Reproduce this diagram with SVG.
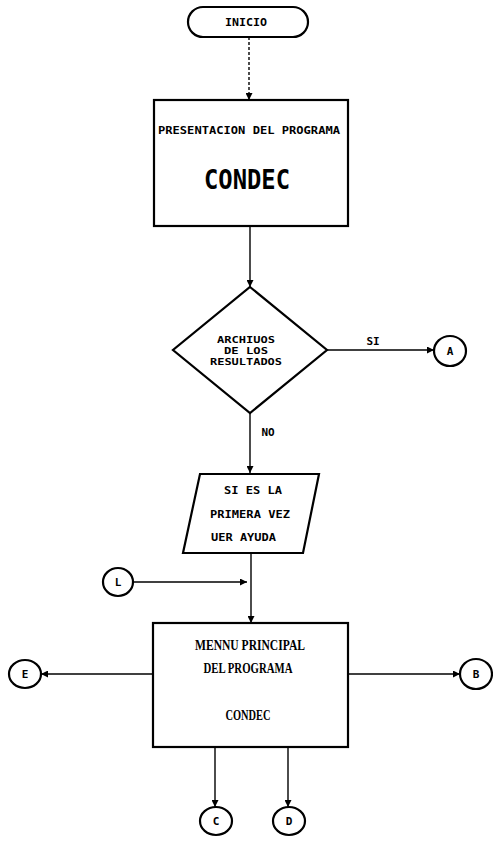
<svg xmlns="http://www.w3.org/2000/svg" width="493" height="841" viewBox="0 0 493 841">
<style>
  .shape { fill: #fff; stroke: #000; stroke-width: 2.2; }
  .conn { fill: none; stroke: #000; stroke-width: 1.4; }
  .dot { font-family: "DejaVu Sans Mono", "Liberation Mono", monospace; font-weight: bold; font-size: 11px; fill: #000; }
  .dia { font-family: "DejaVu Sans Mono", "Liberation Mono", monospace; font-weight: bold; font-size: 9px; fill: #000; }
  .big { font-family: "DejaVu Sans Mono", "Liberation Mono", monospace; font-weight: bold; font-size: 27px; fill: #000; }
  .serif { font-family: "Liberation Serif", "DejaVu Serif", serif; font-weight: bold; font-size: 15px; fill: #000; }
</style>
<defs>
  <marker id="arr" viewBox="0 0 10 10" refX="10" refY="5" markerWidth="7" markerHeight="7" markerUnits="userSpaceOnUse" orient="auto">
    <path d="M0,0 L10,5 L0,10 Z" fill="#000"/>
  </marker>
</defs>
<rect width="493" height="841" fill="#fff"/>

<g id="connectors">
  <line class="conn" x1="249" y1="37" x2="249" y2="100" stroke-dasharray="3 2" marker-end="url(#arr)"/>
  <line class="conn" x1="250" y1="226" x2="250" y2="287" marker-end="url(#arr)"/>
  <line class="conn" x1="327" y1="350" x2="434" y2="350" marker-end="url(#arr)"/>
  <line class="conn" x1="250" y1="413" x2="250" y2="473" marker-end="url(#arr)"/>
  <line class="conn" x1="251" y1="553" x2="251" y2="623" marker-end="url(#arr)"/>
  <line class="conn" x1="134" y1="582" x2="247" y2="582" marker-end="url(#arr)"/>
  <line class="conn" x1="153" y1="674" x2="41" y2="674" marker-end="url(#arr)"/>
  <line class="conn" x1="348" y1="674" x2="460" y2="674" marker-end="url(#arr)"/>
  <line class="conn" x1="215" y1="747" x2="215" y2="807" marker-end="url(#arr)"/>
  <line class="conn" x1="288" y1="747" x2="288" y2="807" marker-end="url(#arr)"/>
  <text class="dot" x="373" y="345" text-anchor="middle">SI</text>
  <text class="dot" x="268" y="436" text-anchor="middle">NO</text>
</g>

<g id="inicio">
  <rect class="shape" x="188" y="7" width="120" height="30" rx="15"/>
  <text class="dot" x="246" y="26" text-anchor="middle" textLength="42" lengthAdjust="spacingAndGlyphs">INICIO</text>
</g>

<g id="presentacion">
  <rect class="shape" x="154" y="100" width="194" height="126"/>
  <text class="dot" x="249" y="134" text-anchor="middle" textLength="182" lengthAdjust="spacingAndGlyphs">PRESENTACION DEL PROGRAMA</text>
  <text class="big" x="247" y="189" text-anchor="middle" textLength="86" lengthAdjust="spacingAndGlyphs">CONDEC</text>
</g>

<g id="decision">
  <polygon class="shape" points="250,287 327,350 250,413 173,350"/>
  <text class="dia" x="246" y="343" text-anchor="middle" textLength="58" lengthAdjust="spacingAndGlyphs">ARCHIUOS</text>
  <text class="dia" x="246" y="354" text-anchor="middle" textLength="44" lengthAdjust="spacingAndGlyphs">DE LOS</text>
  <text class="dia" x="246" y="365" text-anchor="middle" textLength="72" lengthAdjust="spacingAndGlyphs">RESULTADOS</text>
</g>

<g id="conA">
  <ellipse class="shape" cx="450" cy="351" rx="16" ry="15" stroke-width="1.8"/>
  <text class="dot" x="450" y="355" text-anchor="middle">A</text>
</g>

<g id="ayuda">
  <polygon class="shape" points="200,474 319,474 303,553 183,553"/>
  <text class="dot" x="253" y="494" text-anchor="middle" textLength="58" lengthAdjust="spacingAndGlyphs">SI ES LA</text>
  <text class="dot" x="210" y="518" textLength="80" lengthAdjust="spacingAndGlyphs">PRIMERA VEZ</text>
  <text class="dot" x="211" y="541" textLength="65" lengthAdjust="spacingAndGlyphs">UER AYUDA</text>
</g>

<g id="conL">
  <ellipse class="shape" cx="118" cy="582" rx="15" ry="14" stroke-width="1.8"/>
  <text class="dot" x="118" y="586" text-anchor="middle">L</text>
</g>

<g id="menu">
  <rect class="shape" x="153" y="623" width="195" height="124" stroke-width="2.5"/>
  <text class="serif" x="250" y="650" text-anchor="middle" textLength="110" lengthAdjust="spacingAndGlyphs">MENNU PRINCIPAL</text>
  <text class="serif" x="248" y="673" text-anchor="middle" textLength="89" lengthAdjust="spacingAndGlyphs">DEL PROGRAMA</text>
  <text class="serif" x="248" y="720" text-anchor="middle" textLength="45" lengthAdjust="spacingAndGlyphs">CONDEC</text>
</g>

<g id="conE">
  <ellipse class="shape" cx="25" cy="674" rx="16" ry="14" stroke-width="1.8"/>
  <text class="dot" x="25" y="678" text-anchor="middle">E</text>
</g>

<g id="conB">
  <ellipse class="shape" cx="476" cy="674" rx="16" ry="15" stroke-width="1.8"/>
  <text class="dot" x="476" y="678" text-anchor="middle">B</text>
</g>

<g id="conC">
  <ellipse class="shape" cx="216" cy="821" rx="16" ry="14" stroke-width="1.8"/>
  <text class="dot" x="216" y="825" text-anchor="middle">C</text>
</g>

<g id="conD">
  <ellipse class="shape" cx="289" cy="821" rx="16" ry="14" stroke-width="1.8"/>
  <text class="dot" x="289" y="825" text-anchor="middle">D</text>
</g>
</svg>
